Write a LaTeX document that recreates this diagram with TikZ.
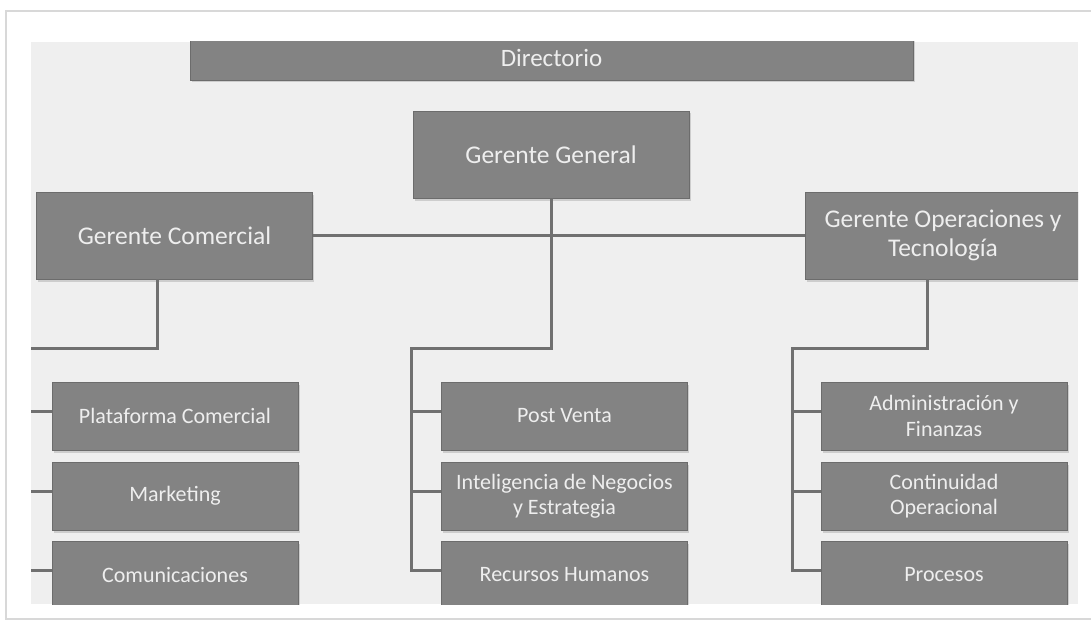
\documentclass[tikz,border=0pt]{standalone}
\usepackage{fontspec}
\setmainfont{Carlito}
\usetikzlibrary{shadows}
\definecolor{boxgray}{HTML}{838383}
\definecolor{edgegray}{HTML}{6C6C6C}
\definecolor{linegray}{HTML}{707070}
\definecolor{bggray}{HTML}{EFEFEF}
\definecolor{framegray}{HTML}{D8D8D8}
\definecolor{txtgray}{HTML}{EEEEEE}
\tikzset{
  orgbox/.style={rectangle, fill=boxgray, draw=edgegray, line width=0.8pt,
    text=txtgray, align=center, inner sep=2pt,
    drop shadow={shadow xshift=1.5pt, shadow yshift=-2.5pt, opacity=0.3}},
  bigbox/.style={orgbox, font=\fontsize{25.5}{29.5}\selectfont,
    minimum width=276pt, minimum height=87pt},
  smallbox/.style={orgbox, font=\fontsize{22}{25.5}\selectfont,
    minimum width=246pt, minimum height=68pt},
  orgline/.style={draw=linegray, line width=3pt}
}
\begin{document}
\begin{tikzpicture}[x=1pt, y=-1pt]
  \useasboundingbox (0,0) rectangle (1091,631);
  \draw[framegray, line width=1.5pt] (6,11) rectangle (1110,619);
  \fill[bggray] (31,42) rectangle (1078,604);
  \begin{scope}
    \clip (31,42) rectangle (1078,604);
    % top level
    \node[orgbox, font=\fontsize{25}{29}\selectfont, minimum width=723pt,
      minimum height=45pt] (dir) at (551.5,57.5) {Directorio};
    \node[bigbox] (gg) at (551,154.5) {Gerente General};
    \node[bigbox] (gc) at (174.5,235.5) {Gerente Comercial};
    \node[bigbox] (got) at (943,235.5) {Gerente Operaciones y\\Tecnología};
    % areas
    \node[smallbox] (pc) at (175,416) {Plataforma Comercial};
    \node[smallbox] (mkt) at (175,496) {Marketing};
    \node[smallbox] (com) at (175,575) {Comunicaciones};
    \node[smallbox] (pv) at (564.5,416) {Post Venta};
    \node[smallbox] (inb) at (564.5,496) {Inteligencia de Negocios\\y Estrategia};
    \node[smallbox] (rh) at (564.5,575) {Recursos Humanos};
    \node[smallbox] (af) at (944,416) {Administración y\\Finanzas};
    \node[smallbox] (co) at (944,496) {Continuidad\\Operacional};
    \node[smallbox] (pro) at (944,575) {Procesos};
    % joints
    \coordinate (jl) at (20,348);
    \coordinate (jm) at (411,348);
    \coordinate (jr) at (792,348);
    % connectors
    \draw[orgline] (gc.east) -- (got.west);
    \draw[orgline] ([xshift=-17.5pt]gc.south) |- (jl);
    \draw[orgline] (gg.south) |- (jm) |- ([yshift=5pt]rh.west);
    \draw[orgline] ([xshift=-16pt]got.south) |- (jr) |- ([yshift=5pt]pro.west);
    \foreach \b in {pc,mkt,com}
      \draw[orgline] ([yshift=5pt]\b.west) -- ([yshift=5pt]\b.west -| jl);
    \foreach \b in {pv,inb}
      \draw[orgline] ([yshift=5pt]\b.west) -- ([yshift=5pt]\b.west -| jm);
    \foreach \b in {af,co}
      \draw[orgline] ([yshift=5pt]\b.west) -- ([yshift=5pt]\b.west -| jr);
  \end{scope}
\end{tikzpicture}
\end{document}
